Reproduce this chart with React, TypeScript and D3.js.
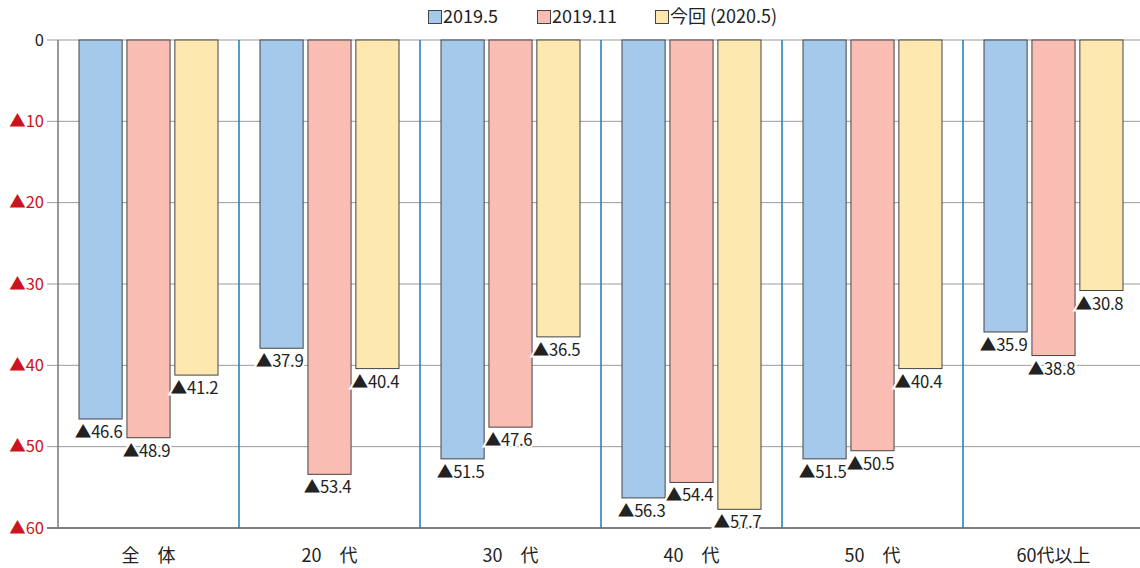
import React from "react";
import * as d3 from "d3";

const categories = ["全　体", "20　代", "30　代", "40　代", "50　代", "60代以上"];
const seriesNames = ["2019.5", "2019.11", "今回 (2020.5)"];
const s2019_5 = [46.6, 37.9, 51.5, 56.3, 51.5, 35.9];
const s2019_11 = [48.9, 53.4, 47.6, 54.4, 50.5, 38.8];
const s2020_5 = [41.2, 40.4, 36.5, 57.7, 40.4, 30.8];
const seriesValues = [s2019_5, s2019_11, s2020_5];
const colors = ["#a5c9ea", "#f9bdb4", "#fde8af"];
const yTicks = [0, 10, 20, 30, 40, 50, 60];

const W = 1140;
const H = 568;
const FONT = "'Noto Sans CJK JP', 'Noto Sans', sans-serif";

export default function App() {
  const y = d3.scaleLinear().domain([0, 60]).range([40, 528]);
  const x = d3.scaleBand<string>().domain(categories).range([58, 1144]).padding(0);
  const inner = d3
    .scaleBand<string>()
    .domain(seriesNames)
    .range([21, 160])
    .paddingInner(0.1)
    .paddingOuter(0);

  const fmt = (v: number) => "▲" + v.toFixed(1);

  const legendX = [428, 537, 655];

  return (
    <svg
      width={W}
      height={H}
      style={{ position: "absolute", left: 0, top: 0, background: "#fff" }}
      fontFamily={FONT}
    >
      {yTicks.map((t) => (
        <line
          key={"g" + t}
          x1={47}
          x2={W}
          y1={y(t)}
          y2={y(t)}
          stroke={t === 60 ? "#555" : "#9a9a9a"}
          strokeWidth={t === 60 ? 1.5 : 1}
        />
      ))}
      <line x1={58} x2={58} y1={y(0)} y2={y(60)} stroke="#777" strokeWidth={1.5} />
      {categories.slice(1).map((c) => (
        <line
          key={"d" + c}
          x1={x(c)!}
          x2={x(c)!}
          y1={y(0)}
          y2={y(60)}
          stroke="#1a7bbd"
          strokeWidth={1.5}
        />
      ))}
      {yTicks.map((t) => (
        <text
          key={"t" + t}
          x={44}
          y={y(t)}
          dy="0.35em"
          textAnchor="end"
          fontSize={16.5}
          fill={t === 0 ? "#222" : "#cc1420"}
        >
          {t === 0 ? "0" : "▲" + t}
        </text>
      ))}
      {categories.map((c, ci) =>
        seriesNames.map((s, si) => {
          const v = seriesValues[si][ci];
          const bx = x(c)! + inner(s)!;
          return (
            <rect
              key={c + s}
              x={bx}
              y={y(0)}
              width={inner.bandwidth()}
              height={y(v) - y(0)}
              fill={colors[si]}
              stroke="#444"
              strokeWidth={1}
            />
          );
        })
      )}
      {categories.map((c, ci) =>
        seriesNames.map((s, si) => {
          const v = seriesValues[si][ci];
          const cx = x(c)! + inner(s)! + inner.bandwidth() / 2 - 2;
          return (
            <text
              key={"l" + c + s}
              x={cx}
              y={y(v) + 19}
              textAnchor="middle"
              fontSize={16.7}
              fill="#222"
              stroke="#fff"
              strokeWidth={4}
              paintOrder="stroke"
              letterSpacing={-0.3}
            >
              {fmt(v)}
            </text>
          );
        })
      )}
      {categories.map((c) => (
        <text
          key={"c" + c}
          x={x(c)! + x.bandwidth() / 2}
          y={556}
          dy="0.35em"
          textAnchor="middle"
          fontSize={18}
          fill="#222"
        >
          {c}
        </text>
      ))}
      {seriesNames.map((s, i) => (
        <g key={"lg" + s} transform={`translate(${legendX[i]},10)`}>
          <rect x={0.5} y={0.5} width={13} height={13} fill={colors[i]} stroke="#444" strokeWidth={1} />
          <text x={15} y={7} dy="0.35em" fontSize={18} fill="#222">
            {s}
          </text>
        </g>
      ))}
    </svg>
  );
}
